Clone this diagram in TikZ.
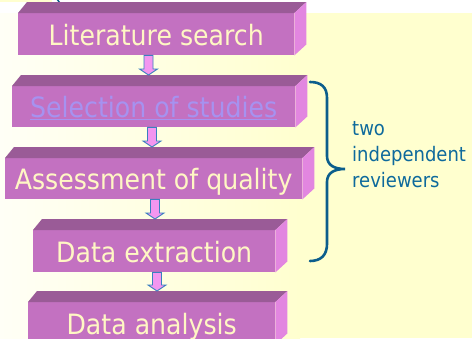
\documentclass[tikz,border=0pt]{standalone}
\usepackage{fontspec}
\setmainfont{DejaVu Sans}[FakeStretch=0.9]
\usetikzlibrary{calc}

\definecolor{bgyellow}{HTML}{FFFFCF}
\definecolor{bgpale}{HTML}{FFFFF6}
\definecolor{facefront}{HTML}{C371C1}
\definecolor{facetop}{HTML}{9A5B97}
\definecolor{faceside}{HTML}{E286E0}
\definecolor{boxtext}{HTML}{FFF7C4}
\definecolor{linktext}{HTML}{A692F0}
\definecolor{arrowfill}{HTML}{F396F0}
\definecolor{arrowline}{HTML}{3A80C0}
\definecolor{bracecol}{HTML}{0C5E8C}
\definecolor{notecol}{HTML}{0E6A9C}

\tikzset{
  frontface/.style={fill=facefront, text=boxtext, inner sep=0pt, anchor=north west,
    text height=24pt, text depth=2pt, font=\fontsize{28}{32}\selectfont},
  topface/.style={fill=facetop},
  sideface/.style={fill=faceside},
  flowarr/.style={fill=arrowfill, draw=arrowline, line width=0.9pt, line join=miter},
  bracestyle/.style={draw=bracecol, line width=2.6pt, line cap=round},
  notestyle/.style={text=notecol, align=left, inner sep=0pt,
    font=\fontsize{20}{26}\selectfont},
}

% a slab: front face node with a top face and a right face
% #1 name, #2 left, #3 top, #4 right, #5 bottom, #6 label
\newcommand\slab[6]{%
  \node[frontface, minimum width={#4pt-#2pt}, minimum height={#5pt-#3pt}] (#1) at (#2,#3) {#6};
  \fill[topface] (#1.north west) -- ++(9,-11) -- ([shift={(12,-11)}]#1.north east) -- (#1.north east) -- cycle;
  \fill[sideface] (#1.north east) -- ++(12,-11) -- ([shift={(12,-11)}]#1.south east) -- (#1.south east) -- cycle;
}

% block arrow from the bottom of one slab to the top face of the next
% #1 upper slab, #2 lower slab, #3 x position
\newcommand\flowarrow[3]{%
  \draw[flowarr] let \p1=(#1.south), \p2=(#2.north) in
    (#3pt-4.5pt,\y1) -- (#3pt+4.5pt,\y1) -- (#3pt+4.5pt,\y2+17pt) -- (#3pt+9pt,\y2+17pt)
    -- (#3pt,\y2+11pt) -- (#3pt-9pt,\y2+17pt) -- (#3pt-4.5pt,\y2+17pt) -- cycle;
}

\begin{document}
\begin{tikzpicture}[x=1pt,y=-1pt]
  % background
  \useasboundingbox (0,0) rectangle (472,338);
  \fill[white] (0,0) rectangle (472,338);
  \shade[left color=bgpale, right color=bgyellow] (0,13) rectangle (300,338);
  \fill[bgyellow] (299.5,13) rectangle (472,338);
  \fill[bgyellow] (0,0) rectangle (52,2);
  \draw[bracecol, line width=1.5pt] (57,-1) -- (59.5,2.5);

  % process steps
  \slab{lit}{18}{13}{294}{55}{Literature search}
  \slab{sel}{12}{86}{295}{127}{\textcolor{linktext}{\underline{Selection of studies}}}
  \slab{qual}{5}{158}{302}{199}{Assessment of quality}
  \slab{extr}{33}{230}{275}{272}{Data extraction}
  \slab{anal}{28}{302}{275}{344}{Data analysis}

  % connecting arrows
  \flowarrow{lit}{sel}{148.5}
  \flowarrow{sel}{qual}{152}
  \flowarrow{qual}{extr}{155}
  \flowarrow{extr}{anal}{157}

  % brace spanning the reviewed steps
  \draw[bracestyle] (310,82) .. controls (321,82) and (327,87) .. (327,98)
    -- (327,156) .. controls (327,165) and (334,169) .. (345,169)
    .. controls (334,169) and (327,173) .. (327,182)
    -- (327,244) .. controls (327,255) and (321,261) .. (310,261);

  \node[notestyle, anchor=base west] (note) at (352,187) {two\\independent\\reviewers};
\end{tikzpicture}
\end{document}
